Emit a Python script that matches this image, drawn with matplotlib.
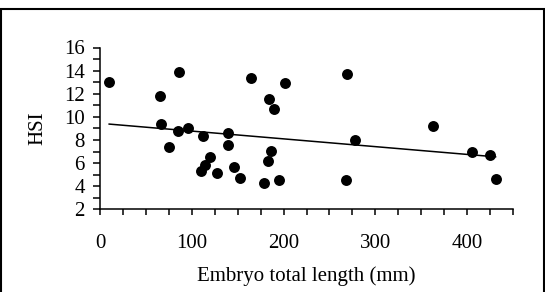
import numpy as np
import matplotlib
matplotlib.use("Agg")
import matplotlib.pyplot as plt
from matplotlib.patches import Rectangle
from matplotlib.ticker import MultipleLocator

# Embryo total length (mm) and hepatosomatic index
length_mm = [10, 65, 66, 86, 85, 75, 96, 112, 110, 114, 120, 128, 140, 139,
             146, 153, 164, 184, 190, 186, 183, 179, 195, 202, 269, 268, 278,
             363, 405, 425, 431]
hsi = [13.0, 11.8, 9.4, 13.9, 8.8, 7.4, 9.0, 8.3, 5.3, 5.8, 6.5, 5.1, 8.6,
       7.6, 5.7, 4.75, 13.35, 11.55, 10.65, 7.05, 6.2, 4.3, 4.5, 12.9, 13.7,
       4.55, 8.0, 9.25, 6.95, 6.7, 4.6]

x_ticks = [0, 100, 200, 300, 400]
y_ticks = [2, 4, 6, 8, 10, 12, 14, 16]

plt.rcParams['font.family'] = ['Liberation Serif', 'DejaVu Serif']
FS = 15

fig = plt.figure(figsize=(5.45, 2.92), dpi=100)
ax = fig.add_axes([100 / 545, 1 - 209.3 / 292, 413 / 545, 161.8 / 292])

ax.scatter(length_mm, hsi, s=62, color='black', zorder=3, linewidths=0)

# least-squares trend line over the data range
x = np.array(length_mm, dtype=float)
slope, intercept = np.polyfit(x, hsi, 1)
xs = np.array([x.min(), x.max()])
ax.plot(xs, slope * xs + intercept, color='black', lw=1.1)

ax.set_xlim(0, 450)
ax.set_ylim(2, 16)
ax.set_xticks(x_ticks)
ax.set_yticks(y_ticks)
ax.xaxis.set_minor_locator(MultipleLocator(25))
ax.yaxis.set_minor_locator(MultipleLocator(1))

for side in ('top', 'right'):
    ax.spines[side].set_visible(False)
for side in ('left', 'bottom'):
    ax.spines[side].set_linewidth(1.1)

ax.tick_params(axis='x', which='major', direction='out', length=4.6,
               width=1.1, pad=13, labelsize=FS)
ax.tick_params(axis='x', which='minor', direction='out', length=4,
               width=1.1)
ax.tick_params(axis='y', which='both', direction='out', length=5,
               width=1.1, pad=6, labelsize=FS)

ax.set_xlabel('Embryo total length (mm)', fontsize=FS)
ax.set_ylabel('HSI', fontsize=FS)
ax.xaxis.set_label_coords(0.5, -0.35)
ax.yaxis.set_label_coords(-0.128, 0.5)

# outer frame of the original figure (bottom edge is cropped)
fig.patches.append(Rectangle((1 / 545, -0.1), 542.5 / 545, 1.1 - 9.5 / 292,
                             transform=fig.transFigure, fill=False,
                             edgecolor='black', lw=1.5))

fig.savefig('out.png', dpi=100)
